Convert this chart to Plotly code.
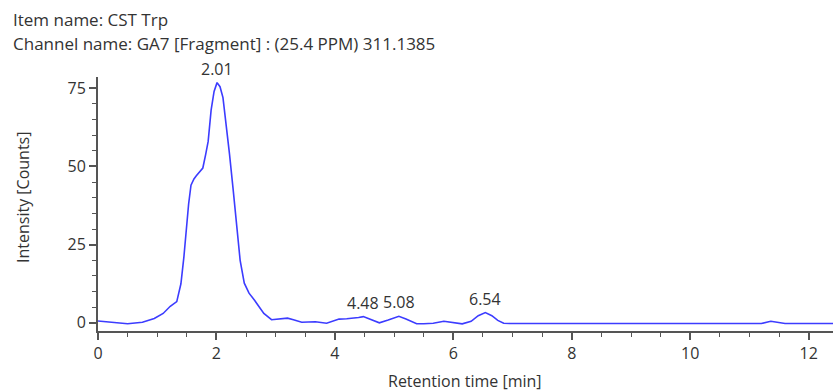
import plotly.graph_objects as go

# Retention time (min) and intensity (counts)
rt = [0, 0.25, 0.5, 0.75, 0.95, 1.1, 1.22, 1.33, 1.4, 1.45, 1.49, 1.53, 1.57, 1.62, 1.66,
      1.72, 1.77, 1.82, 1.86, 1.91, 1.96, 2.01, 2.06, 2.11, 2.17, 2.22, 2.28, 2.33, 2.4,
      2.47, 2.55, 2.64, 2.72, 2.8, 2.93, 3.05, 3.2, 3.3, 3.44, 3.55, 3.67, 3.86, 3.95, 4.07,
      4.2, 4.3, 4.4, 4.48, 4.6, 4.75, 4.9, 5.08, 5.2, 5.38, 5.5, 5.66, 5.84, 6.0, 6.15, 6.3,
      6.42, 6.54, 6.65, 6.75, 6.85, 6.95, 7.5, 8, 9, 10, 11, 11.2, 11.36, 11.5, 11.6, 12, 12.41]
intensity = [0.6, 0.2, -0.3, 0.2, 1.4, 3.0, 5.3, 6.8, 12.5, 21, 29.7, 38, 44, 46, 47,
             48.5, 49.5, 54, 58, 68, 74, 76.8, 75.5, 72, 63, 54, 43, 33, 20,
             12.7, 9.5, 7.3, 5, 3, 1.0, 1.2, 1.5, 1.0, 0.2, 0.3, 0.35, -0.1, 0.5, 1.2,
             1.3, 1.4, 1.7, 2.0, 1.2, 0.0, 0.9, 2.1, 1.2, -0.3, -0.3, -0.1, 0.5, 0.0, -0.3, 0.5,
             2.3, 3.3, 2.3, 0.8, -0.1, -0.2, -0.2, -0.2, -0.2, -0.2, -0.2, -0.2, 0.5, 0.0, -0.2, -0.2, -0.2]

peak_rt = [2.01, 4.48, 5.08, 6.54]
peak_int = [76.8, 2.0, 2.1, 3.3]
peak_labels = ["2.01", "4.48", "5.08", "6.54"]

x_ticks = [0, 2, 4, 6, 8, 10, 12]
y_ticks = [0, 25, 50, 75]

title_lines = ["Item name: CST Trp", "Channel name: GA7 [Fragment] : (25.4 PPM) 311.1385"]
x_title = "Retention time [min]"
y_title = "Intensity [Counts]"

FONT = "Open Sans"
FS = 16
TXT = "#333333"
AX = "#555555"

fig = go.Figure()
fig.add_trace(go.Scatter(x=rt, y=intensity, mode="lines",
                         line=dict(color="#3c3cff", width=1.6), hoverinfo="skip",
                         showlegend=False))

W, H = 838, 392
ml, mr, mt, mb = 98, 5, 77, 61
pw, ph = W - ml - mr, H - mt - mb

def px_x(p):
    return (p - ml) / pw

def px_y(p):
    return (H - mb - p) / ph

annotations = []
for xv, yv, lab in zip(peak_rt, peak_int, peak_labels):
    annotations.append(dict(x=xv, y=yv, text=lab, showarrow=False, xref="x", yref="y",
                            yanchor="bottom", yshift=1, font=dict(family=FONT, size=FS, color=TXT)))

for ypx, txt in zip([20, 43], title_lines):
    annotations.append(dict(x=px_x(11), y=px_y(ypx), xref="paper", yref="paper",
                            xanchor="left", yanchor="middle", text=txt, showarrow=False,
                            font=dict(family=FONT, size=17, color=TXT)))

annotations.append(dict(x=px_x(465), y=px_y(381), xref="paper", yref="paper",
                        xanchor="center", yanchor="middle", text=x_title, showarrow=False,
                        font=dict(family=FONT, size=FS, color=TXT)))
annotations.append(dict(x=px_x(23), y=px_y(198), xref="paper", yref="paper",
                        xanchor="center", yanchor="middle", text=y_title, showarrow=False,
                        textangle=-90, font=dict(family=FONT, size=FS, color=TXT)))

fig.update_layout(
    width=W, height=H,
    margin=dict(l=ml, r=mr, t=mt, b=mb),
    paper_bgcolor="white", plot_bgcolor="white",
    font=dict(family=FONT, size=FS, color=TXT),
    annotations=annotations,
    xaxis=dict(range=[0, 12.41], tickvals=x_ticks, ticks="outside", ticklen=7, tickwidth=1.5,
               tickcolor=AX, showline=True, linecolor=AX, linewidth=2, showgrid=False,
               zeroline=False, tickfont=dict(size=FS, color=TXT),
               minor=dict(dtick=0.5, tick0=0, ticks="outside", ticklen=4, tickcolor=AX, tickwidth=1)),
    yaxis=dict(range=[-2.6, 78.6], tickvals=y_ticks, ticks="outside", ticklen=7, tickwidth=1.5,
               tickcolor=AX, showline=True, linecolor=AX, linewidth=2, showgrid=False,
               zeroline=False, tickfont=dict(size=FS, color=TXT),
               minor=dict(dtick=5, tick0=0, ticks="outside", ticklen=4, tickcolor=AX, tickwidth=1)),
)

fig.write_html("out.html")
